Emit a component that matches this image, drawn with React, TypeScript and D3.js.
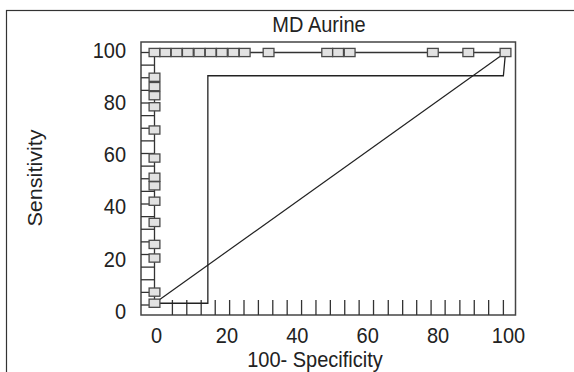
import React, { useEffect, useRef } from "react";
import * as d3 from "d3";

// ── Data ──────────────────────────────────────────────────────────────────────

// ROC points sitting on the left edge (100-Specificity = 0)
const SENS_AT_ZERO = [0.7, 5.1, 18.6, 24.0, 32.7, 41.1, 47.2, 50.6, 58.2, 69.3, 78.5, 82.9, 86.5, 90.2];
// ROC points sitting on the top edge (Sensitivity = 100)
const SPEC_AT_FULL = [0, 3.1, 6.3, 9.5, 12.8, 16.0, 19.2, 22.5, 25.7, 32.5, 49.2, 52.3, 55.6, 79.3, 89.4, 100];

// lower step line
const STEP_X = [0, 15.2, 15.2, 99.4, 100];
const STEP_Y = [0.7, 0.7, 90.8, 90.8, 100];

// chance diagonal
const DIAG_X = [0, 100];
const DIAG_Y = [0.7, 100];

// rug marks
const Y_RUG = [0, 5, 10, 15, 20, 25, 30, 35, 40, 45, 50, 55, 60, 65, 70, 75, 80, 85, 90, 95, 100];
const X_RUG = [5.1, 9.2, 13.3, 17.3, 21.4, 25.5, 29.6, 33.7, 37.8, 41.9, 46.0, 50.1, 54.2, 58.3, 62.4, 66.6, 70.7, 74.7, 78.8, 82.8, 87.0, 91.1, 95.2, 99.4];

const X_TICKS = [0, 20, 40, 60, 80, 100];
const Y_TICKS = [0, 20, 40, 60, 80, 100];

const TITLE = "MD Aurine";
const X_TITLE = "100- Specificity";
const Y_TITLE = "Sensitivity";

// ── Layout ────────────────────────────────────────────────────────────────────

const W = 574;
const H = 372;
const BOX = { left: 141, right: 515.5, top: 42, bottom: 315 };
const FONT = "'Liberation Sans', Arial, Helvetica, sans-serif";
const STRETCH = 1.08;
const MW = 10.8;
const MH = 8.2;

function render(svgEl: SVGSVGElement) {
  const svg = d3.select(svgEl);
  svg.selectAll("*").remove();

  const x = d3.scaleLinear().domain([0, 100]).range([154.5, 505.5]);
  const y = d3.scaleLinear().domain([0, 100]).range([305, 52.5]);
  // tick labels are placed slightly apart from the marks in the original
  const xLab = d3.scaleLinear().domain([0, 100]).range([156.5, 508.5]);
  const yLab = d3.scaleLinear().domain([0, 100]).range([311.5, 50]);

  // outer frame
  svg.append("rect")
    .attr("x", 6.5).attr("y", 10.5)
    .attr("width", 700).attr("height", 500)
    .attr("fill", "none").attr("stroke", "#333").attr("stroke-width", 1.2);

  // plot box
  svg.append("rect")
    .attr("x", BOX.left).attr("y", BOX.top)
    .attr("width", BOX.right - BOX.left).attr("height", BOX.bottom - BOX.top)
    .attr("fill", "none").attr("stroke", "#444").attr("stroke-width", 1.5);

  // rugs
  svg.append("g").selectAll("line").data(Y_RUG).join("line")
    .attr("x1", BOX.left).attr("x2", x(0))
    .attr("y1", (d) => y(d)).attr("y2", (d) => y(d))
    .attr("stroke", "#333").attr("stroke-width", 1.3);

  svg.append("g").selectAll("line").data(X_RUG).join("line")
    .attr("x1", (d) => x(d)).attr("x2", (d) => x(d))
    .attr("y1", BOX.bottom).attr("y2", BOX.bottom - 15)
    .attr("stroke", "#333").attr("stroke-width", 1.3);

  const line = d3.line<[number, number]>().x((d) => x(d[0])).y((d) => y(d[1]));

  // step line and diagonal
  svg.append("path")
    .attr("d", line(STEP_X.map((v, i) => [v, STEP_Y[i]]) as [number, number][]))
    .attr("fill", "none").attr("stroke", "#222").attr("stroke-width", 1.3);
  svg.append("path")
    .attr("d", line(DIAG_X.map((v, i) => [v, DIAG_Y[i]]) as [number, number][]))
    .attr("fill", "none").attr("stroke", "#222").attr("stroke-width", 1.2);

  // ROC curve
  const roc: [number, number][] = [
    ...SENS_AT_ZERO.map((s) => [0, s] as [number, number]),
    ...SPEC_AT_FULL.map((v) => [v, 100] as [number, number]),
  ];
  svg.append("path")
    .attr("d", line(roc))
    .attr("fill", "none").attr("stroke", "#333").attr("stroke-width", 1.3);

  svg.append("g").selectAll("rect").data(roc).join("rect")
    .attr("x", (d) => x(d[0]) - MW / 2)
    .attr("y", (d) => y(d[1]) - MH / 2)
    .attr("width", MW).attr("height", MH)
    .attr("fill", "#e2e2e2").attr("stroke", "#4a4a4a").attr("stroke-width", 1.3);

  // texts
  const txt = (tx: number, ty: number, s: string, anchor: string, rot = 0) =>
    svg.append("text")
      .attr("transform", `translate(${tx},${ty}) scale(1,${STRETCH})${rot ? ` rotate(${rot})` : ""}`)
      .attr("text-anchor", anchor)
      .attr("font-family", FONT).attr("font-size", 20).attr("fill", "#222")
      .text(s);

  X_TICKS.forEach((v) => txt(xLab(v), 343, String(v), "middle"));
  Y_TICKS.forEach((v) => txt(126, yLab(v) + 7.5, String(v), "end"));

  txt(319, 31.5, TITLE, "middle");
  txt(315, 367, X_TITLE, "middle");
  txt(42, 178, Y_TITLE, "middle", -90);
}

export default function App() {
  const ref = useRef<SVGSVGElement>(null);
  useEffect(() => {
    if (ref.current) render(ref.current);
  }, []);
  return (
    <svg
      ref={ref}
      width={W}
      height={H}
      style={{ position: "absolute", left: 0, top: 0, background: "#fff" }}
    />
  );
}
